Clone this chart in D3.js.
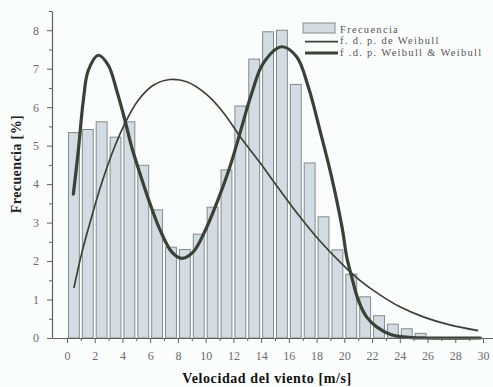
<!DOCTYPE html>
<html>
<head>
<meta charset="utf-8">
<script src="https://cdn.jsdelivr.net/npm/d3@7"></script>
<style>
	body { margin: 0; background: #fbfcfc; }
	svg { display: block; }
</style>
</head>
<body>
<div id="chart"></div>
<script>
// bin start (m/s) and frequency (%)
var binStarts = [0,1,2,3,4,5,6,7,8,9,10,11,12,13,14,15,16,17,18,19,20,21,22,23,24,25];
var frecuencia = [5.34,5.42,5.62,5.22,5.62,4.49,3.33,2.36,2.30,2.70,3.40,4.37,6.03,7.25,7.96,8.0,6.59,4.55,3.15,2.29,1.66,1.07,0.58,0.36,0.24,0.12];

// f.d.p. de Weibull [x, %]
var weibullPts = [[0.5,1.3],[1.06,2.2],[1.78,3.15],[2.5,4.02],[3.34,4.88],[4.18,5.58],[5.14,6.18],[6.22,6.57],[7.43,6.72],[8.63,6.66],[10.0,6.35],[11.3,5.85],[12.45,5.25],[13.91,4.56],[15.36,3.84],[16.8,3.15],[18.24,2.52],[20.04,1.85],[21.12,1.5],[22.57,1.12],[24.0,0.81],[25.69,0.55],[27.6,0.34],[29.65,0.19]];

// f.d.p. Weibull & Weibull
var mixPts = [[0.46,3.74],[0.82,4.88],[1.18,6.18],[1.54,6.96],[2.26,7.35],[2.98,7.09],[3.58,6.44],[4.18,5.66],[4.66,4.97],[5.26,4.28],[5.98,3.5],[6.71,2.81],[7.55,2.24],[8.27,2.07],[9.11,2.24],[9.95,2.78],[10.79,3.5],[11.75,4.45],[12.47,5.32],[13.32,6.36],[14.15,7.14],[15.48,7.57],[16.56,7.31],[17.4,6.53],[18.24,5.4],[19.08,4.19],[19.85,2.85],[20.17,2.11],[20.53,1.59],[21.0,0.99],[21.6,0.55],[22.33,0.29],[23.29,0.1],[24.25,0.03],[25.9,0],[29.8,0]];

var xTicks = d3.range(0, 31, 2);
var xMinor = d3.range(1, 30, 2);
var yTicks = d3.range(0, 9, 1);
var yMinor = d3.range(0.5, 9, 1);

var legendLabels = ["Frecuencia", "f. d. p. de Weibull", "f .d. p. Weibull & Weibull"];

var width = 493, height = 387;
var ink = "#3a4137", gray = "#5e6262";
var serif = "'Liberation Serif','DejaVu Serif',serif";

var svg = d3.select("#chart").append("svg")
	.attr("width", width)
	.attr("height", height);

var x = d3.scaleLinear().domain([-1.08, 30.72]).range([52, 493]);
var y = d3.scaleLinear().domain([0, 8.5]).range([338, 11]);

//bars
svg.append("g").selectAll("rect")
	.data(binStarts)
	.enter().append("rect")
	.attr("x", function(d) { return x(d) + 1.5; })
	.attr("width", function(d) { return x(d + 1) - x(d) - 3; })
	.attr("y", function(d, i) { return y(frecuencia[i]); })
	.attr("height", function(d, i) { return y(0) - y(frecuencia[i]); })
	.style("fill", "#d3dce2")
	.style("stroke", "#858b8c")
	.style("stroke-width", "1");

//curves
var line = d3.line()
	.x(function(d) { return x(d[0]); })
	.y(function(d) { return y(d[1]); })
	.curve(d3.curveCatmullRom);

svg.append("path")
	.attr("d", line(weibullPts))
	.style("fill", "none")
	.style("stroke", ink)
	.style("stroke-width", "1.7");

svg.append("path")
	.attr("d", line(mixPts))
	.style("fill", "none")
	.style("stroke", ink)
	.style("stroke-width", "3.2")
	.style("stroke-linecap", "round");

//axes
var xAxis = svg.append("g")
	.attr("transform", "translate(0," + y(0) + ")")
	.call(d3.axisBottom(x).tickValues(xTicks).tickSize(5).tickSizeOuter(0).tickPadding(8));
xAxis.append("g").selectAll("line")
	.data(xMinor)
	.enter().append("line")
	.attr("x1", function(d) { return x(d) + 0.5; })
	.attr("x2", function(d) { return x(d) + 0.5; })
	.attr("y1", 0)
	.attr("y2", 3)
	.attr("stroke", gray);

var yAxis = svg.append("g")
	.attr("transform", "translate(" + x.range()[0] + ",0)")
	.call(d3.axisLeft(y).tickValues(yTicks).tickSize(5).tickSizeOuter(0).tickPadding(8));
yAxis.append("g").selectAll("line")
	.data(yMinor)
	.enter().append("line")
	.attr("y1", function(d) { return y(d) + 0.5; })
	.attr("y2", function(d) { return y(d) + 0.5; })
	.attr("x1", 0)
	.attr("x2", -3)
	.attr("stroke", gray);

svg.selectAll(".domain").attr("stroke", gray).attr("stroke-width", 1.2);
svg.selectAll(".tick line").attr("stroke", gray);
svg.selectAll(".tick text")
	.style("font-family", serif)
	.style("font-size", "12px")
	.style("fill", "#6a6d6d");

//axis titles
svg.append("text")
	.attr("x", 267)
	.attr("y", 383)
	.attr("text-anchor", "middle")
	.style("font-family", serif)
	.style("font-weight", "bold")
	.style("font-size", "14px")
	.style("letter-spacing", "0.6px")
	.style("fill", "#111")
	.text("Velocidad del viento [m/s]");

svg.append("text")
	.attr("transform", "translate(21,164) rotate(-90)")
	.attr("text-anchor", "middle")
	.style("font-family", serif)
	.style("font-weight", "bold")
	.style("font-size", "14px")
	.style("letter-spacing", "0.4px")
	.style("fill", "#222")
	.text("Frecuencia [%]");

//legend
var legend = svg.append("g").attr("transform", "translate(303,23)");
legend.append("rect")
	.attr("x", 0).attr("y", 0)
	.attr("width", 32).attr("height", 10)
	.style("fill", "#d3dce2")
	.style("stroke", "#858b8c");
legend.append("line")
	.attr("x1", 2).attr("x2", 35)
	.attr("y1", 18.7).attr("y2", 18.7)
	.style("stroke", ink).style("stroke-width", "1.7");
legend.append("line")
	.attr("x1", 2).attr("x2", 35)
	.attr("y1", 30).attr("y2", 30)
	.style("stroke", ink).style("stroke-width", "3");
legend.selectAll("text.lab")
	.data(legendLabels)
	.enter().append("text")
	.attr("class", "lab")
	.attr("x", 37)
	.attr("y", function(d, i) { return 9.5 + i * 11.8; })
	.style("font-family", serif)
	.style("font-size", "10.5px")
	.style("letter-spacing", "1.3px")
	.style("fill", "#555")
	.text(function(d) { return d; });
</script>
</body>
</html>
